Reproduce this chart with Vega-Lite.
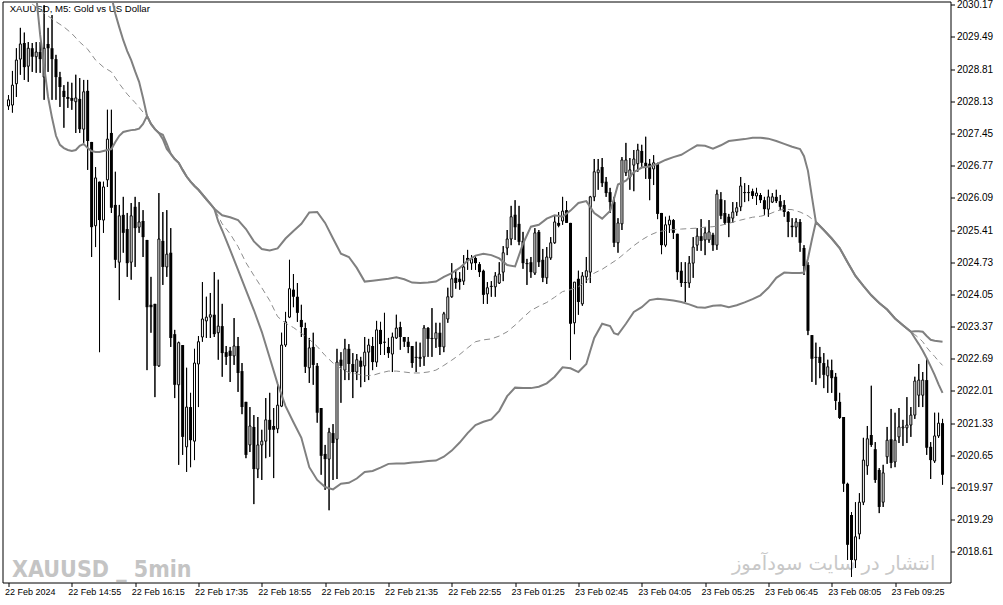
{
"$schema": "https://vega.github.io/schema/vega-lite/v6.json",
"width": 948, "height": 581,
"autosize": {"type": "none"},
"padding": {"left": 2.5, "top": 1.5, "right": 52.5, "bottom": 22.5},
"background": "white",
"config": {"view": {"stroke": "black", "strokeWidth": 1}, "font": "Liberation Sans",
  "axis": {"labelOverlap": false, "labelBound": false},
  "axisY": {"labelOverlap": false, "labelFontSize": 10, "labelColor": "black", "tickColor": "black", "tickSize": 4, "domain": false, "grid": false, "labelPadding": 2, "labelFlush": false},
  "axisX": {"labelOverlap": false, "labelFontSize": 9, "labelColor": "black", "tickColor": "black", "tickSize": 4, "domain": false, "grid": false, "labelFlush": false}},
"datasets": {
"candles": [
{"i":0,"o":2028.03,"h":2028.26,"l":2027.95,"c":2028.16},
{"i":1,"o":2028.05,"h":2028.77,"l":2027.89,"c":2028.47},
{"i":2,"o":2028.50,"h":2029.25,"l":2028.22,"c":2029.00},
{"i":3,"o":2029.02,"h":2029.68,"l":2028.69,"c":2029.34},
{"i":4,"o":2029.36,"h":2029.58,"l":2028.58,"c":2028.85},
{"i":5,"o":2028.87,"h":2029.38,"l":2028.54,"c":2029.25},
{"i":6,"o":2029.25,"h":2029.36,"l":2028.75,"c":2029.07},
{"i":7,"o":2029.07,"h":2029.38,"l":2028.73,"c":2029.17},
{"i":8,"o":2029.17,"h":2029.38,"l":2028.73,"c":2029.02},
{"i":9,"o":2028.64,"h":2030.16,"l":2028.16,"c":2029.25},
{"i":10,"o":2029.34,"h":2029.68,"l":2028.75,"c":2029.25},
{"i":11,"o":2029.25,"h":2029.95,"l":2028.16,"c":2029.02},
{"i":12,"o":2029.02,"h":2029.11,"l":2028.16,"c":2028.64},
{"i":13,"o":2028.64,"h":2028.75,"l":2028.01,"c":2028.43},
{"i":14,"o":2028.35,"h":2028.47,"l":2027.57,"c":2028.22},
{"i":15,"o":2028.22,"h":2028.54,"l":2027.99,"c":2028.18},
{"i":16,"o":2028.20,"h":2028.52,"l":2027.95,"c":2028.14},
{"i":17,"o":2028.12,"h":2028.69,"l":2027.46,"c":2028.20},
{"i":18,"o":2028.18,"h":2028.62,"l":2027.46,"c":2027.54},
{"i":19,"o":2027.54,"h":2028.58,"l":2027.25,"c":2028.33},
{"i":20,"o":2028.35,"h":2028.58,"l":2026.68,"c":2027.29},
{"i":21,"o":2027.27,"h":2027.27,"l":2024.84,"c":2025.47},
{"i":22,"o":2025.50,"h":2026.74,"l":2025.05,"c":2026.51},
{"i":23,"o":2026.43,"h":2026.43,"l":2022.83,"c":2025.62},
{"i":24,"o":2025.62,"h":2026.43,"l":2025.35,"c":2026.32},
{"i":25,"o":2026.47,"h":2027.95,"l":2026.32,"c":2027.33},
{"i":26,"o":2027.46,"h":2027.95,"l":2025.77,"c":2025.88},
{"i":27,"o":2025.94,"h":2026.64,"l":2024.61,"c":2024.78},
{"i":28,"o":2024.73,"h":2025.94,"l":2023.93,"c":2025.71},
{"i":29,"o":2025.73,"h":2026.11,"l":2024.93,"c":2025.35},
{"i":30,"o":2025.43,"h":2025.77,"l":2024.42,"c":2024.71},
{"i":31,"o":2024.73,"h":2025.98,"l":2024.36,"c":2025.71},
{"i":32,"o":2025.90,"h":2026.11,"l":2024.63,"c":2025.45},
{"i":33,"o":2025.47,"h":2026.00,"l":2025.35,"c":2025.58},
{"i":34,"o":2025.60,"h":2025.83,"l":2024.84,"c":2025.26},
{"i":35,"o":2025.20,"h":2025.20,"l":2022.45,"c":2023.78},
{"i":36,"o":2023.83,"h":2024.42,"l":2023.24,"c":2023.78},
{"i":37,"o":2023.85,"h":2023.85,"l":2021.88,"c":2022.54},
{"i":38,"o":2022.54,"h":2026.19,"l":2022.52,"c":2025.22},
{"i":39,"o":2025.18,"h":2025.79,"l":2024.25,"c":2024.63},
{"i":40,"o":2024.63,"h":2025.83,"l":2024.42,"c":2024.90},
{"i":41,"o":2024.93,"h":2025.45,"l":2022.94,"c":2023.13},
{"i":42,"o":2023.21,"h":2023.30,"l":2021.86,"c":2022.14},
{"i":43,"o":2022.14,"h":2023.05,"l":2020.45,"c":2023.03},
{"i":44,"o":2022.98,"h":2022.98,"l":2020.66,"c":2021.04},
{"i":45,"o":2020.83,"h":2022.50,"l":2020.30,"c":2021.67},
{"i":46,"o":2021.67,"h":2021.97,"l":2020.40,"c":2020.97},
{"i":47,"o":2020.95,"h":2022.90,"l":2020.55,"c":2022.60},
{"i":48,"o":2022.58,"h":2023.17,"l":2021.67,"c":2023.05},
{"i":49,"o":2023.15,"h":2024.31,"l":2023.05,"c":2023.53},
{"i":50,"o":2023.49,"h":2024.00,"l":2023.13,"c":2023.57},
{"i":51,"o":2023.57,"h":2024.08,"l":2023.13,"c":2023.62},
{"i":52,"o":2023.62,"h":2024.52,"l":2023.15,"c":2023.21},
{"i":53,"o":2023.24,"h":2024.36,"l":2022.67,"c":2023.38},
{"i":54,"o":2023.38,"h":2023.85,"l":2022.31,"c":2022.81},
{"i":55,"o":2022.83,"h":2022.96,"l":2022.56,"c":2022.73},
{"i":56,"o":2022.86,"h":2022.94,"l":2022.20,"c":2022.75},
{"i":57,"o":2022.75,"h":2023.55,"l":2022.56,"c":2022.96},
{"i":58,"o":2022.96,"h":2023.15,"l":2021.99,"c":2022.39},
{"i":59,"o":2022.43,"h":2022.60,"l":2021.52,"c":2021.67},
{"i":60,"o":2021.78,"h":2021.78,"l":2020.59,"c":2020.66},
{"i":61,"o":2020.87,"h":2021.67,"l":2020.72,"c":2021.27},
{"i":62,"o":2021.25,"h":2021.50,"l":2019.62,"c":2020.36},
{"i":63,"o":2020.36,"h":2021.46,"l":2020.17,"c":2020.87},
{"i":64,"o":2020.87,"h":2021.19,"l":2020.13,"c":2020.95},
{"i":65,"o":2020.95,"h":2021.86,"l":2020.59,"c":2021.40},
{"i":66,"o":2021.40,"h":2021.97,"l":2020.62,"c":2021.19},
{"i":67,"o":2021.27,"h":2021.65,"l":2020.17,"c":2021.19},
{"i":68,"o":2021.21,"h":2022.14,"l":2021.12,"c":2021.71},
{"i":69,"o":2021.69,"h":2023.24,"l":2021.67,"c":2022.98},
{"i":70,"o":2022.98,"h":2023.68,"l":2022.94,"c":2023.47},
{"i":71,"o":2023.57,"h":2024.78,"l":2023.55,"c":2024.17},
{"i":72,"o":2024.15,"h":2024.48,"l":2023.78,"c":2024.00},
{"i":73,"o":2024.00,"h":2024.29,"l":2023.47,"c":2023.66},
{"i":74,"o":2023.51,"h":2023.83,"l":2023.15,"c":2023.36},
{"i":75,"o":2023.34,"h":2023.45,"l":2022.39,"c":2022.52},
{"i":76,"o":2022.50,"h":2023.13,"l":2022.18,"c":2022.92},
{"i":77,"o":2022.94,"h":2023.24,"l":2022.14,"c":2022.56},
{"i":78,"o":2022.54,"h":2022.60,"l":2021.34,"c":2021.55},
{"i":79,"o":2021.65,"h":2021.65,"l":2020.24,"c":2020.64},
{"i":80,"o":2020.68,"h":2020.87,"l":2019.92,"c":2020.57},
{"i":81,"o":2020.57,"h":2021.23,"l":2019.49,"c":2021.14},
{"i":82,"o":2021.12,"h":2021.31,"l":2020.13,"c":2020.91},
{"i":83,"o":2020.99,"h":2022.90,"l":2020.15,"c":2022.62},
{"i":84,"o":2022.67,"h":2022.83,"l":2021.76,"c":2022.54},
{"i":85,"o":2022.45,"h":2023.11,"l":2022.24,"c":2022.90},
{"i":86,"o":2022.90,"h":2023.00,"l":2022.24,"c":2022.58},
{"i":87,"o":2022.58,"h":2022.81,"l":2021.86,"c":2022.41},
{"i":88,"o":2022.41,"h":2022.79,"l":2022.24,"c":2022.67},
{"i":89,"o":2022.65,"h":2022.73,"l":2022.09,"c":2022.52},
{"i":90,"o":2022.54,"h":2023.15,"l":2022.20,"c":2022.83},
{"i":91,"o":2022.83,"h":2023.11,"l":2022.24,"c":2022.98},
{"i":92,"o":2022.96,"h":2023.15,"l":2022.45,"c":2022.62},
{"i":93,"o":2022.62,"h":2023.49,"l":2022.52,"c":2023.30},
{"i":94,"o":2023.30,"h":2023.47,"l":2022.77,"c":2023.00},
{"i":95,"o":2023.05,"h":2023.66,"l":2022.77,"c":2023.03},
{"i":96,"o":2022.94,"h":2023.13,"l":2022.71,"c":2022.81},
{"i":97,"o":2022.79,"h":2023.24,"l":2022.41,"c":2023.15},
{"i":98,"o":2023.13,"h":2023.62,"l":2023.11,"c":2023.34},
{"i":99,"o":2023.36,"h":2023.47,"l":2022.88,"c":2023.15},
{"i":100,"o":2023.15,"h":2023.15,"l":2022.94,"c":2023.05},
{"i":101,"o":2023.05,"h":2023.15,"l":2022.81,"c":2022.94},
{"i":102,"o":2022.96,"h":2022.96,"l":2022.50,"c":2022.60},
{"i":103,"o":2022.73,"h":2023.05,"l":2022.41,"c":2022.71},
{"i":104,"o":2022.73,"h":2023.03,"l":2022.52,"c":2022.69},
{"i":105,"o":2022.73,"h":2023.40,"l":2022.54,"c":2023.34},
{"i":106,"o":2023.34,"h":2023.36,"l":2022.73,"c":2023.11},
{"i":107,"o":2023.13,"h":2023.76,"l":2022.73,"c":2023.11},
{"i":108,"o":2023.11,"h":2023.45,"l":2022.92,"c":2023.24},
{"i":109,"o":2023.24,"h":2023.45,"l":2022.77,"c":2022.94},
{"i":110,"o":2022.94,"h":2023.68,"l":2022.83,"c":2023.64},
{"i":111,"o":2023.53,"h":2024.19,"l":2023.45,"c":2024.00},
{"i":112,"o":2024.00,"h":2024.71,"l":2023.98,"c":2024.38},
{"i":113,"o":2024.40,"h":2024.57,"l":2024.17,"c":2024.29},
{"i":114,"o":2024.38,"h":2024.52,"l":2024.15,"c":2024.31},
{"i":115,"o":2024.33,"h":2024.88,"l":2024.25,"c":2024.63},
{"i":116,"o":2024.82,"h":2024.99,"l":2024.57,"c":2024.76},
{"i":117,"o":2024.71,"h":2024.88,"l":2024.57,"c":2024.80},
{"i":118,"o":2024.82,"h":2024.88,"l":2024.57,"c":2024.71},
{"i":119,"o":2024.69,"h":2024.73,"l":2024.42,"c":2024.52},
{"i":120,"o":2024.55,"h":2024.57,"l":2023.85,"c":2024.04},
{"i":121,"o":2024.06,"h":2024.31,"l":2023.85,"c":2024.19},
{"i":122,"o":2024.23,"h":2024.33,"l":2024.00,"c":2024.21},
{"i":123,"o":2024.21,"h":2024.52,"l":2024.00,"c":2024.44},
{"i":124,"o":2024.29,"h":2024.73,"l":2024.27,"c":2024.48},
{"i":125,"o":2024.52,"h":2025.07,"l":2024.33,"c":2024.93},
{"i":126,"o":2025.03,"h":2025.41,"l":2024.88,"c":2025.22},
{"i":127,"o":2025.22,"h":2025.92,"l":2025.09,"c":2025.69},
{"i":128,"o":2025.73,"h":2026.04,"l":2025.20,"c":2025.47},
{"i":129,"o":2025.54,"h":2025.92,"l":2025.09,"c":2025.16},
{"i":130,"o":2025.18,"h":2025.37,"l":2024.59,"c":2024.71},
{"i":131,"o":2024.71,"h":2024.80,"l":2024.25,"c":2024.69},
{"i":132,"o":2024.73,"h":2024.84,"l":2024.40,"c":2024.52},
{"i":133,"o":2024.50,"h":2025.45,"l":2024.46,"c":2025.35},
{"i":134,"o":2025.37,"h":2025.41,"l":2024.63,"c":2024.73},
{"i":135,"o":2024.78,"h":2025.01,"l":2024.31,"c":2024.40},
{"i":136,"o":2024.40,"h":2025.05,"l":2024.27,"c":2024.84},
{"i":137,"o":2024.82,"h":2025.26,"l":2024.78,"c":2025.14},
{"i":138,"o":2025.14,"h":2025.71,"l":2025.12,"c":2025.58},
{"i":139,"o":2025.56,"h":2025.79,"l":2025.47,"c":2025.50},
{"i":140,"o":2025.60,"h":2026.11,"l":2025.52,"c":2025.81},
{"i":141,"o":2025.83,"h":2026.02,"l":2025.56,"c":2025.56},
{"i":142,"o":2025.56,"h":2025.56,"l":2022.67,"c":2023.43},
{"i":143,"o":2023.45,"h":2024.31,"l":2023.21,"c":2024.31},
{"i":144,"o":2024.38,"h":2024.55,"l":2023.62,"c":2023.89},
{"i":145,"o":2023.85,"h":2024.52,"l":2023.81,"c":2024.44},
{"i":146,"o":2024.42,"h":2024.84,"l":2024.29,"c":2024.55},
{"i":147,"o":2024.52,"h":2026.13,"l":2024.29,"c":2026.11},
{"i":148,"o":2026.11,"h":2026.91,"l":2026.02,"c":2026.64},
{"i":149,"o":2026.62,"h":2026.91,"l":2026.26,"c":2026.68},
{"i":150,"o":2026.74,"h":2026.93,"l":2026.32,"c":2026.40},
{"i":151,"o":2026.43,"h":2026.53,"l":2026.11,"c":2026.19},
{"i":152,"o":2026.21,"h":2026.30,"l":2025.77,"c":2026.00},
{"i":153,"o":2026.00,"h":2026.11,"l":2025.05,"c":2025.14},
{"i":154,"o":2025.14,"h":2025.66,"l":2024.93,"c":2025.56},
{"i":155,"o":2025.54,"h":2026.95,"l":2025.41,"c":2026.89},
{"i":156,"o":2026.62,"h":2027.25,"l":2026.55,"c":2026.89},
{"i":157,"o":2026.53,"h":2026.93,"l":2026.26,"c":2026.68},
{"i":158,"o":2026.78,"h":2027.10,"l":2026.23,"c":2026.91},
{"i":159,"o":2026.81,"h":2027.23,"l":2026.64,"c":2027.10},
{"i":160,"o":2027.08,"h":2027.21,"l":2026.74,"c":2026.83},
{"i":161,"o":2026.83,"h":2027.38,"l":2026.49,"c":2026.76},
{"i":162,"o":2026.81,"h":2026.91,"l":2026.04,"c":2026.49},
{"i":163,"o":2026.70,"h":2026.99,"l":2026.36,"c":2026.83},
{"i":164,"o":2026.81,"h":2026.83,"l":2025.64,"c":2025.75},
{"i":165,"o":2025.77,"h":2025.77,"l":2024.90,"c":2025.09},
{"i":166,"o":2025.09,"h":2025.69,"l":2025.05,"c":2025.52},
{"i":167,"o":2025.52,"h":2025.71,"l":2025.35,"c":2025.62},
{"i":168,"o":2025.62,"h":2025.64,"l":2025.22,"c":2025.35},
{"i":169,"o":2025.33,"h":2025.33,"l":2024.36,"c":2024.52},
{"i":170,"o":2024.55,"h":2024.73,"l":2024.21,"c":2024.29},
{"i":171,"o":2024.31,"h":2024.73,"l":2023.89,"c":2024.29},
{"i":172,"o":2024.29,"h":2024.86,"l":2024.19,"c":2024.71},
{"i":173,"o":2024.71,"h":2025.26,"l":2024.40,"c":2025.05},
{"i":174,"o":2025.09,"h":2025.45,"l":2024.97,"c":2025.28},
{"i":175,"o":2025.28,"h":2025.64,"l":2024.97,"c":2025.18},
{"i":176,"o":2025.20,"h":2025.47,"l":2024.88,"c":2025.35},
{"i":177,"o":2025.20,"h":2025.62,"l":2025.14,"c":2025.37},
{"i":178,"o":2025.31,"h":2025.35,"l":2024.97,"c":2025.09},
{"i":179,"o":2025.09,"h":2026.26,"l":2024.99,"c":2026.17},
{"i":180,"o":2026.06,"h":2026.21,"l":2025.64,"c":2025.71},
{"i":181,"o":2025.77,"h":2026.04,"l":2025.52,"c":2025.56},
{"i":182,"o":2025.69,"h":2025.75,"l":2025.26,"c":2025.56},
{"i":183,"o":2025.66,"h":2026.00,"l":2025.56,"c":2025.79},
{"i":184,"o":2025.79,"h":2026.00,"l":2025.71,"c":2025.88},
{"i":185,"o":2025.90,"h":2026.53,"l":2025.81,"c":2026.34},
{"i":186,"o":2026.21,"h":2026.40,"l":2026.00,"c":2026.19},
{"i":187,"o":2026.21,"h":2026.36,"l":2026.02,"c":2026.19},
{"i":188,"o":2026.23,"h":2026.28,"l":2026.07,"c":2026.13},
{"i":189,"o":2026.13,"h":2026.30,"l":2025.94,"c":2026.19},
{"i":190,"o":2026.15,"h":2026.19,"l":2025.98,"c":2026.04},
{"i":191,"o":2026.04,"h":2026.11,"l":2025.73,"c":2025.85},
{"i":192,"o":2025.85,"h":2026.26,"l":2025.69,"c":2026.11},
{"i":193,"o":2026.00,"h":2026.19,"l":2025.98,"c":2026.11},
{"i":194,"o":2026.11,"h":2026.26,"l":2025.98,"c":2026.02},
{"i":195,"o":2026.02,"h":2026.15,"l":2025.83,"c":2025.90},
{"i":196,"o":2025.94,"h":2026.04,"l":2025.69,"c":2025.79},
{"i":197,"o":2025.79,"h":2025.81,"l":2025.26,"c":2025.58},
{"i":198,"o":2025.50,"h":2025.66,"l":2025.26,"c":2025.47},
{"i":199,"o":2025.47,"h":2025.66,"l":2025.26,"c":2025.58},
{"i":200,"o":2025.58,"h":2025.64,"l":2024.95,"c":2025.14},
{"i":201,"o":2025.03,"h":2025.09,"l":2024.46,"c":2024.65},
{"i":202,"o":2024.67,"h":2024.73,"l":2023.19,"c":2023.28},
{"i":203,"o":2023.19,"h":2023.19,"l":2022.20,"c":2022.69},
{"i":204,"o":2022.73,"h":2023.03,"l":2022.14,"c":2022.71},
{"i":205,"o":2022.73,"h":2022.94,"l":2022.28,"c":2022.60},
{"i":206,"o":2022.60,"h":2022.81,"l":2022.07,"c":2022.35},
{"i":207,"o":2022.33,"h":2022.67,"l":2021.97,"c":2022.52},
{"i":208,"o":2022.45,"h":2022.67,"l":2021.97,"c":2022.28},
{"i":209,"o":2022.31,"h":2022.39,"l":2021.61,"c":2021.80},
{"i":210,"o":2021.78,"h":2021.97,"l":2021.42,"c":2021.44},
{"i":211,"o":2021.46,"h":2021.46,"l":2019.88,"c":2020.05},
{"i":212,"o":2020.05,"h":2020.07,"l":2018.44,"c":2018.76},
{"i":213,"o":2019.39,"h":2019.45,"l":2018.08,"c":2018.44},
{"i":214,"o":2018.44,"h":2019.66,"l":2018.27,"c":2018.93},
{"i":215,"o":2018.99,"h":2019.85,"l":2018.88,"c":2019.66},
{"i":216,"o":2019.66,"h":2021.02,"l":2019.60,"c":2020.55},
{"i":217,"o":2020.43,"h":2021.27,"l":2020.24,"c":2021.00},
{"i":218,"o":2021.08,"h":2022.12,"l":2020.83,"c":2020.87},
{"i":219,"o":2020.78,"h":2020.93,"l":2020.07,"c":2020.13},
{"i":220,"o":2020.34,"h":2020.38,"l":2019.43,"c":2019.56},
{"i":221,"o":2019.66,"h":2020.45,"l":2019.56,"c":2020.28},
{"i":222,"o":2020.62,"h":2021.25,"l":2020.47,"c":2020.97},
{"i":223,"o":2020.99,"h":2021.63,"l":2020.38,"c":2020.49},
{"i":224,"o":2020.51,"h":2021.55,"l":2020.40,"c":2020.97},
{"i":225,"o":2021.04,"h":2021.65,"l":2020.91,"c":2021.25},
{"i":226,"o":2021.23,"h":2021.40,"l":2020.85,"c":2021.25},
{"i":227,"o":2021.23,"h":2021.88,"l":2020.91,"c":2021.29},
{"i":228,"o":2021.29,"h":2021.67,"l":2021.04,"c":2021.50},
{"i":229,"o":2021.50,"h":2022.31,"l":2021.42,"c":2022.22},
{"i":230,"o":2021.92,"h":2022.58,"l":2021.67,"c":2022.24},
{"i":231,"o":2021.92,"h":2022.41,"l":2021.67,"c":2022.24},
{"i":232,"o":2022.24,"h":2022.69,"l":2020.66,"c":2020.81},
{"i":233,"o":2020.83,"h":2020.93,"l":2020.15,"c":2020.55},
{"i":234,"o":2020.53,"h":2021.55,"l":2020.49,"c":2021.06},
{"i":235,"o":2021.06,"h":2021.55,"l":2021.02,"c":2021.33},
{"i":236,"o":2021.33,"h":2021.42,"l":2020.03,"c":2020.24}
],
"bands": [
{"i":4,"mid":2030.31},
{"i":6,"mid":2030.18,"lo":2031.01},
{"i":7,"lo":2030.37},
{"i":8,"mid":2030.06,"lo":2029.53},
{"i":9,"lo":2028.87},
{"i":10,"mid":2029.93,"lo":2028.22},
{"i":11,"lo":2027.78},
{"i":12,"mid":2029.81,"lo":2027.40},
{"i":13,"lo":2027.21},
{"i":14,"mid":2029.70,"lo":2027.14},
{"i":15,"lo":2027.10},
{"i":16,"mid":2029.56,"lo":2027.08},
{"i":17,"lo":2027.10},
{"i":18,"mid":2029.38,"lo":2027.19},
{"i":19,"lo":2027.23},
{"i":20,"mid":2029.23,"lo":2027.14},
{"i":21,"lo":2027.08},
{"i":22,"mid":2029.00,"lo":2027.06},
{"i":23,"lo":2027.06},
{"i":24,"up":2031.11,"mid":2028.85,"lo":2027.08},
{"i":25,"up":2030.69,"lo":2027.10},
{"i":26,"up":2030.35,"mid":2028.75,"lo":2027.12},
{"i":27,"up":2029.98,"lo":2027.27},
{"i":28,"up":2029.69,"mid":2028.50,"lo":2027.40},
{"i":29,"up":2029.42,"lo":2027.48},
{"i":30,"up":2029.19,"mid":2028.28,"lo":2027.50},
{"i":31,"up":2029.00,"lo":2027.52},
{"i":32,"up":2028.76,"mid":2028.10,"lo":2027.53},
{"i":33,"up":2028.54,"lo":2027.55},
{"i":34,"up":2028.20,"mid":2027.90,"lo":2027.65},
{"i":35,"up":2027.82,"mid":2027.82,"lo":2027.82},
{"i":36,"up":2027.65,"mid":2027.65,"lo":2027.65},
{"i":37,"up":2027.54,"mid":2027.54,"lo":2027.54},
{"i":38,"up":2027.46,"mid":2027.46,"lo":2027.46},
{"i":39,"up":2027.42,"mid":2027.38,"lo":2027.33},
{"i":40,"up":2027.23,"mid":2027.16,"lo":2027.12},
{"i":41,"up":2027.02,"mid":2027.02,"lo":2027.02},
{"i":42,"up":2026.91,"mid":2026.91,"lo":2026.91},
{"i":43,"up":2026.83,"mid":2026.83,"lo":2026.83},
{"i":44,"up":2026.68,"mid":2026.68,"lo":2026.68},
{"i":45,"up":2026.54,"mid":2026.54,"lo":2026.54},
{"i":46,"up":2026.43,"mid":2026.43,"lo":2026.43},
{"i":47,"up":2026.34,"mid":2026.34,"lo":2026.34},
{"i":48,"up":2026.26,"mid":2026.26,"lo":2026.26},
{"i":49,"up":2026.16,"mid":2026.16,"lo":2026.16},
{"i":50,"up":2026.06,"mid":2026.06,"lo":2026.06},
{"i":51,"up":2025.96,"mid":2025.96,"lo":2025.96},
{"i":52,"up":2025.86,"mid":2025.86,"lo":2025.86},
{"i":53,"lo":2025.59},
{"i":54,"up":2025.72,"mid":2025.54,"lo":2025.40},
{"i":56,"up":2025.68,"mid":2025.33,"lo":2024.99},
{"i":58,"up":2025.62,"mid":2025.06,"lo":2024.57},
{"i":60,"up":2025.43,"mid":2024.72,"lo":2024.14},
{"i":62,"up":2025.17,"mid":2024.45,"lo":2023.72},
{"i":64,"up":2025.01,"mid":2024.19,"lo":2023.26},
{"i":66,"up":2024.98,"mid":2023.92,"lo":2022.71},
{"i":68,"up":2025.02,"mid":2023.58,"lo":2022.16},
{"i":70,"up":2025.23,"mid":2023.44,"lo":2021.69},
{"i":72,"up":2025.39,"mid":2023.35,"lo":2021.35},
{"i":74,"up":2025.54,"mid":2023.23,"lo":2021.02},
{"i":76,"up":2025.78,"mid":2023.10,"lo":2020.40},
{"i":78,"up":2025.79,"mid":2022.95,"lo":2020.13},
{"i":80,"up":2025.56,"mid":2022.76,"lo":2019.98},
{"i":82,"up":2025.23,"mid":2022.60,"lo":2019.93},
{"i":84,"up":2024.91,"mid":2022.48,"lo":2020.05},
{"i":86,"up":2024.84,"mid":2022.40,"lo":2020.07},
{"i":88,"up":2024.61,"mid":2022.37,"lo":2020.16},
{"i":90,"up":2024.32,"mid":2022.33,"lo":2020.30},
{"i":92,"up":2024.34,"mid":2022.34,"lo":2020.32},
{"i":94,"up":2024.36,"mid":2022.39,"lo":2020.39},
{"i":96,"up":2024.38,"mid":2022.43,"lo":2020.47},
{"i":98,"up":2024.41,"mid":2022.43,"lo":2020.48},
{"i":100,"up":2024.37,"mid":2022.41,"lo":2020.48},
{"i":102,"up":2024.30,"mid":2022.39,"lo":2020.50},
{"i":104,"up":2024.29,"mid":2022.39,"lo":2020.51},
{"i":106,"up":2024.30,"mid":2022.41,"lo":2020.53},
{"i":108,"up":2024.32,"mid":2022.45,"lo":2020.54},
{"i":110,"up":2024.42,"mid":2022.55,"lo":2020.62},
{"i":112,"up":2024.50,"mid":2022.66,"lo":2020.75},
{"i":114,"up":2024.61,"mid":2022.78,"lo":2020.92},
{"i":116,"up":2024.76,"mid":2022.92,"lo":2021.12},
{"i":118,"up":2024.87,"mid":2023.05,"lo":2021.29},
{"i":120,"up":2024.91,"mid":2023.09,"lo":2021.36},
{"i":122,"up":2024.88,"mid":2023.11,"lo":2021.41},
{"i":124,"up":2024.81,"mid":2023.17,"lo":2021.59},
{"i":126,"up":2024.67,"mid":2023.26,"lo":2021.90},
{"i":128,"up":2024.64,"mid":2023.40,"lo":2022.08},
{"i":129,"up":2024.88},
{"i":130,"up":2025.12,"mid":2023.56,"lo":2022.07},
{"i":132,"up":2025.48,"mid":2023.71,"lo":2022.07},
{"i":134,"up":2025.52,"mid":2023.80,"lo":2022.10},
{"i":136,"up":2025.65,"mid":2023.88,"lo":2022.17},
{"i":138,"up":2025.72,"mid":2023.99,"lo":2022.31},
{"i":140,"up":2025.69,"mid":2024.11,"lo":2022.51},
{"i":142,"up":2025.82,"mid":2024.15,"lo":2022.49},
{"i":144,"up":2025.98,"mid":2024.21,"lo":2022.41},
{"i":146,"up":2026.02,"mid":2024.33,"lo":2022.58},
{"i":147,"lo":2022.86},
{"i":148,"up":2025.77,"mid":2024.50,"lo":2023.13},
{"i":150,"up":2025.65,"mid":2024.58,"lo":2023.43},
{"i":152,"up":2025.81,"mid":2024.69,"lo":2023.38},
{"i":153,"up":2026.07,"lo":2023.23},
{"i":154,"up":2026.37,"mid":2024.80,"lo":2023.20},
{"i":156,"up":2026.45,"mid":2024.94,"lo":2023.43},
{"i":158,"up":2026.63,"mid":2025.08,"lo":2023.68},
{"i":160,"up":2026.73,"mid":2025.20,"lo":2023.78},
{"i":162,"up":2026.75,"mid":2025.30,"lo":2023.93},
{"i":164,"up":2026.81,"mid":2025.37,"lo":2023.96},
{"i":166,"up":2026.89,"mid":2025.40,"lo":2023.94},
{"i":168,"up":2026.95,"mid":2025.42,"lo":2023.92},
{"i":170,"up":2027.00,"mid":2025.43,"lo":2023.89},
{"i":172,"up":2027.10,"mid":2025.44,"lo":2023.84},
{"i":174,"up":2027.20,"mid":2025.45,"lo":2023.78},
{"i":176,"up":2027.19,"mid":2025.47,"lo":2023.77},
{"i":178,"up":2027.13,"mid":2025.48,"lo":2023.81},
{"i":180,"up":2027.20,"mid":2025.51,"lo":2023.82},
{"i":182,"up":2027.29,"mid":2025.55,"lo":2023.78},
{"i":184,"up":2027.31,"mid":2025.60,"lo":2023.82},
{"i":186,"up":2027.33,"mid":2025.64,"lo":2023.88},
{"i":188,"up":2027.36,"mid":2025.68,"lo":2023.95},
{"i":190,"up":2027.36,"mid":2025.70,"lo":2024.03},
{"i":192,"up":2027.34,"mid":2025.74,"lo":2024.19},
{"i":194,"up":2027.29,"mid":2025.81,"lo":2024.40},
{"i":196,"up":2027.23,"mid":2025.85,"lo":2024.51},
{"i":198,"up":2027.17,"mid":2025.84,"lo":2024.50},
{"i":200,"up":2027.12,"mid":2025.79,"lo":2024.50},
{"i":201,"up":2026.97,"lo":2024.51},
{"i":202,"up":2026.66,"mid":2025.71,"lo":2024.81},
{"i":203,"up":2026.11,"lo":2025.21},
{"i":204,"up":2025.58,"mid":2025.58,"lo":2025.58},
{"i":206,"up":2025.41,"mid":2025.41,"lo":2025.41},
{"i":208,"up":2025.23,"mid":2025.23,"lo":2025.23},
{"i":210,"up":2025.03,"mid":2025.03,"lo":2025.03},
{"i":212,"up":2024.73,"mid":2024.73,"lo":2024.73},
{"i":214,"up":2024.44,"mid":2024.44,"lo":2024.44},
{"i":216,"up":2024.23,"mid":2024.23,"lo":2024.23},
{"i":218,"up":2024.03,"mid":2024.03,"lo":2024.03},
{"i":220,"up":2023.87,"mid":2023.87,"lo":2023.87},
{"i":222,"up":2023.73,"mid":2023.73,"lo":2023.73},
{"i":224,"up":2023.54,"mid":2023.54,"lo":2023.54},
{"i":226,"up":2023.40,"mid":2023.40,"lo":2023.40},
{"i":228,"up":2023.26,"mid":2023.26,"lo":2023.26},
{"i":229,"up":2023.27,"mid":2023.20,"lo":2023.13},
{"i":230,"up":2023.27,"mid":2023.13,"lo":2023.00},
{"i":231,"up":2023.26,"mid":2023.05,"lo":2022.86},
{"i":232,"up":2023.17,"mid":2022.93,"lo":2022.70},
{"i":233,"up":2023.09,"mid":2022.83,"lo":2022.53},
{"i":234,"up":2023.07,"mid":2022.74,"lo":2022.35},
{"i":235,"up":2023.06,"mid":2022.64,"lo":2022.15},
{"i":236,"up":2023.05,"mid":2022.55,"lo":2021.97}
]
},
"layer": [
{"data": {"name": "candles"},
 "mark": {"type": "rule", "color": "black", "strokeWidth": 1},
 "encoding": {
  "x": {"field": "i", "type": "quantitative", "scale": {"domain": [-0.25, 236.75], "nice": false, "zero": false},
        "axis": {"values": [0,16,32,48,64,80,96,112,128,144,160,176,192,208,224], "tickCount": 40,
                 "labelExpr": "['22 Feb 2024','22 Feb 14:55','22 Feb 16:15','22 Feb 17:35','22 Feb 18:55','22 Feb 20:15','22 Feb 21:35','22 Feb 22:55','23 Feb 01:25','23 Feb 02:45','23 Feb 04:05','23 Feb 05:25','23 Feb 06:45','23 Feb 08:05','23 Feb 09:25'][round(datum.value/16)]",
                 "orient": "bottom", "labelAlign": "left", "labelBaseline": "top", "labelPadding": 1, "labelOffset": -4,
                 "labelFont": "Liberation Sans", "title": null, "labelOverlap": false}},
  "y": {"field": "l", "type": "quantitative", "scale": {"domain": [2017.964, 2030.237], "nice": false, "zero": false},
        "axis": {"values": [2030.17,2029.49,2028.81,2028.13,2027.45,2026.77,2026.09,2025.41,2024.73,2024.05,2023.37,2022.69,2022.01,2021.33,2020.65,2019.97,2019.29,2018.61], "tickCount": 40,
                 "format": ".2f", "orient": "right", "labelFont": "Liberation Sans", "title": null, "labelOverlap": false}},
  "y2": {"field": "h"}
 }},
{"data": {"values": [{}]},
 "mark": {"type": "text", "text": "XAUUSD _ 5min", "font": "Liberation Sans Narrow, DejaVu Sans Condensed, Liberation Sans", "fontWeight": "bold", "fontSize": 23, "fill": "#c4c4c4", "align": "left", "baseline": "alphabetic"},
 "encoding": {
  "x": {"datum": 0.9, "type": "quantitative"},
  "y": {"datum": 2018.08, "type": "quantitative"}
 }},
{"data": {"values": [{}]},
 "mark": {"type": "text", "text": "انتشار در سایت سودآموز", "font": "DejaVu Sans", "fontSize": 19.5, "fill": "#c8c8c8", "align": "right", "baseline": "alphabetic"},
 "encoding": {
  "x": {"datum": 234.2, "type": "quantitative"},
  "y": {"datum": 2018.23, "type": "quantitative"}
 }},
{"data": {"values": [{}]},
 "mark": {"type": "text", "text": "XAUUSD, M5:  Gold vs US Dollar", "font": "Liberation Sans", "fontSize": 9.6, "fill": "black", "align": "left", "baseline": "alphabetic"},
 "encoding": {
  "x": {"datum": 0.3, "type": "quantitative"},
  "y": {"datum": 2030.01, "type": "quantitative"}
 }},
{"data": {"name": "candles"},
 "mark": {"type": "rule", "color": "black", "strokeWidth": 1},
 "encoding": {
  "x": {"field": "i", "type": "quantitative"},
  "y": {"field": "l", "type": "quantitative"},
  "y2": {"field": "h"}
 }},
{"data": {"name": "candles"},
 "transform": [{"filter": "datum.c >= datum.o"}],
 "mark": {"type": "bar", "width": 2, "fill": "white", "stroke": "black", "strokeWidth": 1},
 "encoding": {
  "x": {"field": "i", "type": "quantitative"},
  "y": {"field": "o", "type": "quantitative"},
  "y2": {"field": "c"}
 }},
{"data": {"name": "candles"},
 "transform": [{"filter": "datum.c < datum.o"}],
 "mark": {"type": "bar", "width": 3, "fill": "black"},
 "encoding": {
  "x": {"field": "i", "type": "quantitative"},
  "y": {"field": "o", "type": "quantitative"},
  "y2": {"field": "c"}
 }},
{"data": {"name": "bands"},
 "transform": [{"filter": "isValid(datum.mid)"}],
 "mark": {"type": "line", "clip": true, "color": "#8c8c8c", "strokeWidth": 1, "strokeDash": [6, 4]},
 "encoding": {
  "x": {"field": "i", "type": "quantitative"},
  "y": {"field": "mid", "type": "quantitative"}
 }},
{"data": {"name": "bands"},
 "transform": [{"filter": "isValid(datum.up)"}],
 "mark": {"type": "line", "clip": true, "color": "#808080", "strokeWidth": 2},
 "encoding": {
  "x": {"field": "i", "type": "quantitative"},
  "y": {"field": "up", "type": "quantitative"}
 }},
{"data": {"name": "bands"},
 "transform": [{"filter": "isValid(datum.lo)"}],
 "mark": {"type": "line", "clip": true, "color": "#808080", "strokeWidth": 2},
 "encoding": {
  "x": {"field": "i", "type": "quantitative"},
  "y": {"field": "lo", "type": "quantitative"}
 }}
]
}
